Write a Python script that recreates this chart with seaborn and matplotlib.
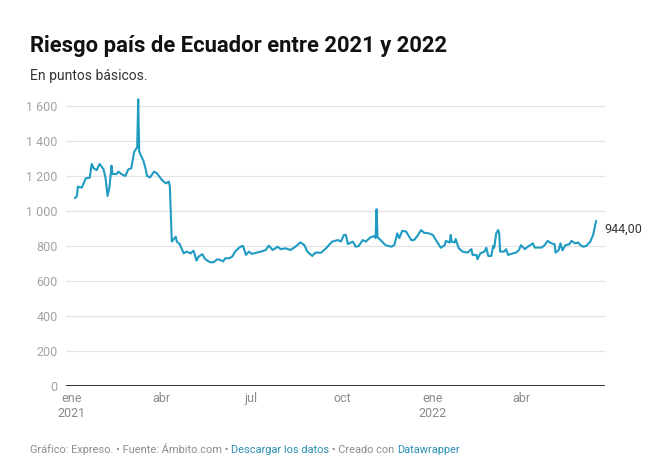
import numpy as np
import pandas as pd
import matplotlib
matplotlib.use("Agg")
import matplotlib.pyplot as plt
import seaborn as sns

# ---- data ----
# days after 2021-01-01
day_offsets = [3, 5, 6, 10, 14, 18, 20, 22, 25, 28, 32, 34, 36, 38, 40, 41, 45, 47, 50, 54,
               57, 60, 63, 66, 67, 68, 70, 72, 74, 76, 79, 83, 86, 89, 91, 95, 98, 99, 101, 103,
               105, 106, 109, 110, 113, 116, 120, 123, 126, 128, 132, 134, 137, 140, 143, 147, 150, 153, 155, 159,
               162, 165, 169, 172, 173, 176, 179, 182, 187, 191, 196, 199, 203, 208, 211, 216, 221, 226, 231, 235,
               238, 243, 246, 252, 257, 263, 269, 272, 275, 277, 279, 284, 287, 290, 294, 297, 302, 306, 307, 308,
               309, 312, 317, 323, 326, 329, 331, 334, 338, 339, 343, 346, 350, 353, 356, 361, 365, 368, 373, 377,
               378, 382, 383, 384, 387, 388, 391, 395, 400, 404, 405, 409, 410, 413, 417, 419, 421, 424, 426, 427,
               429, 431, 432, 433, 437, 439, 441, 446, 449, 452, 454, 458, 461, 466, 468, 475, 478, 481, 485, 488,
               489, 492, 494, 496, 499, 503, 505, 509, 512, 514, 517, 520, 524, 527, 530]
risk_values = [1073, 1085, 1139, 1134, 1187, 1190, 1269, 1244, 1234, 1269, 1238, 1187, 1086, 1139, 1259, 1211, 1211, 1225, 1211, 1200,
               1238, 1244, 1339, 1364, 1638, 1340, 1314, 1291, 1253, 1200, 1192, 1225, 1215, 1192, 1177, 1158, 1168, 1139, 825, 840,
               853, 825, 811, 796, 758, 768, 758, 773, 716, 739, 753, 730, 716, 707, 707, 724, 720, 712, 730, 730,
               739, 768, 790, 800, 800, 749, 768, 755, 762, 768, 777, 802, 777, 796, 782, 787, 777, 796, 821, 805,
               768, 743, 762, 762, 787, 825, 834, 825, 863, 863, 811, 825, 796, 800, 834, 825, 850, 857, 845, 1010,
               850, 834, 805, 796, 805, 872, 845, 887, 882, 872, 834, 834, 863, 891, 876, 872, 863, 834, 790, 805,
               829, 820, 863, 825, 820, 840, 788, 768, 762, 782, 749, 749, 724, 758, 768, 790, 743, 743, 801, 790,
               872, 891, 872, 768, 768, 782, 749, 758, 762, 777, 805, 782, 796, 815, 791, 791, 805, 829, 815, 810,
               762, 775, 815, 775, 805, 810, 829, 815, 820, 805, 796, 800, 824, 863, 944]

y_ticks = [0, 200, 400, 600, 800, 1000, 1200, 1400, 1600]
x_tick_dates = ["2021-01-01", "2021-04-01", "2021-07-01", "2021-10-01", "2022-01-01", "2022-04-01"]
x_tick_labels = ["ene\n2021", "abr", "jul", "oct", "ene\n2022", "abr"]

title = "Riesgo país de Ecuador entre 2021 y 2022"
subtitle = "En puntos básicos."

# ---- build frame ----
start = pd.Timestamp("2021-01-01")
df = pd.DataFrame({
    "fecha": start + pd.to_timedelta(day_offsets, unit="D"),
    "riesgo": risk_values,
})

sns.set_theme(style="white")
plt.rcParams["font.family"] = ["Roboto", "DejaVu Sans"]

W, H = 659, 469
fig = plt.figure(figsize=(W / 100, H / 100), dpi=100)
ax = fig.add_axes([66 / W, 83 / H, (605 - 66) / W, (386 - 97.25) / H])

line_color = "#1f9bc2"
sns.lineplot(data=df, x="fecha", y="riesgo", ax=ax, color=line_color, linewidth=1.5)

ax.set_ylim(0, 1650)
ax.set_xlim(pd.Timestamp("2020-12-26"), pd.Timestamp("2022-06-24"))

ax.set_yticks(y_ticks)
ax.set_yticklabels([f"{v:,}".replace(",", " ") for v in y_ticks], color="#a3a3a3", fontsize=9)
ax.set_xticks(pd.to_datetime(x_tick_dates))
ax.set_xticklabels(x_tick_labels, color="#8a8a8a", fontsize=9, linespacing=1.25)
ax.tick_params(axis="both", length=0)
ax.tick_params(axis="y", pad=6)
ax.tick_params(axis="x", pad=4)

for v in y_ticks[1:]:
    ax.axhline(v, color="#e3e3e3", linewidth=0.9, zorder=0)
ax.axhline(0, color="#222222", linewidth=1.3, zorder=3)

for s in ax.spines.values():
    s.set_visible(False)
ax.set_xlabel("")
ax.set_ylabel("")

# end label
last_x = df["fecha"].iloc[-1]
last_y = df["riesgo"].iloc[-1]
ax.annotate(f"{last_y:,.2f}".replace(",", "X").replace(".", ",").replace("X", " "),
            xy=(last_x, last_y), xytext=(6, -6), textcoords="offset points",
            ha="left", va="center", fontsize=9, color="#333333", annotation_clip=False)

# titles
fig.text(30 / W, 1 - 52 / H, title, fontsize=15.8, fontweight="bold", color="#111111",
         ha="left", va="baseline")
fig.text(30 / W, 1 - 80 / H, subtitle, fontsize=10, color="#333333", ha="left", va="baseline")

# footer
gray = "#8c8c8c"
blue = "#2b8fb3"
fs_footer = 7.95
parts = [("Gráfico: Expreso. • Fuente: Ámbito.com • ", gray), ("Descargar los datos", blue),
         (" • Creado con ", gray), ("Datawrapper", blue)]
prev = fig.text(30 / W, 1 - 453 / H, parts[0][0], fontsize=fs_footer, color=parts[0][1],
                ha="left", va="baseline")
for txt, col in parts[1:]:
    prev = ax.annotate(txt, xy=(1, 0), xycoords=prev, ha="left", va="bottom",
                       fontsize=fs_footer, color=col, annotation_clip=False)

fig.savefig("out.png", dpi=100)
